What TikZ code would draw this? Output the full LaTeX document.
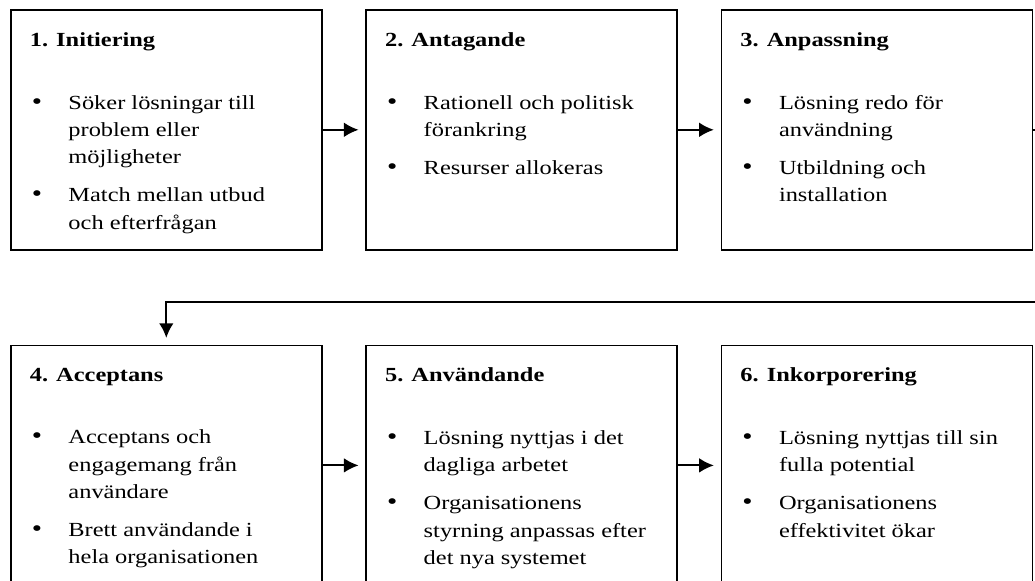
\documentclass[tikz,border=0pt]{standalone}
\usepackage{fontspec}
\setmainfont{Liberation Serif}[FakeStretch=1.22]
\usetikzlibrary{arrows.meta,positioning}

\newcommand{\bitem}[1]{\par\hangindent=29pt\hangafter=1\noindent
  \makebox[29pt][l]{\hspace{1.5pt}{\fontsize{18pt}{18pt}\selectfont\textbullet}}{\let\\\newline#1}}
\newcommand{\stagebox}[2]{\parbox[c][180pt][t]{204.75pt}{\raggedright\parskip=8pt
  \vspace*{9pt}\textbf{#1}\par\vspace{18.5pt}#2}}

\begin{document}
\begin{tikzpicture}[
  stage/.style={draw,line width=1.2pt,minimum width=233.25pt,minimum height=180pt,
    inner xsep=14.25pt,inner ysep=0pt,font={\fontsize{15pt}{20.5pt}\selectfont}},
  flow/.style={line width=1.5pt,-{Latex[length=11pt,width=11pt]},shorten >=5pt},
  node distance=70.5pt and 32pt
]
  \useasboundingbox (-7.5pt,6.75pt) rectangle (768.75pt,-429pt);

  \node[stage,anchor=north west] (s1) at (0,0) {\stagebox{1. Initiering}{%
    \bitem{Söker lösningar till\\problem eller\\möjligheter}
    \bitem{Match mellan utbud\\och efterfrågan}}};
  \node[stage,right=of s1] (s2) {\stagebox{2. Antagande}{%
    \bitem{Rationell och politisk\\förankring}
    \bitem{Resurser allokeras}}};
  \node[stage,right=of s2] (s3) {\stagebox{3. Anpassning}{%
    \bitem{Lösning redo för\\användning}
    \bitem{Utbildning och\\installation}}};
  \node[stage,below=of s1] (s4) {\stagebox{4. Acceptans}{%
    \bitem{Acceptans och\\engagemang från\\användare}
    \bitem{Brett användande i\\hela organisationen}}};
  \node[stage,right=of s4] (s5) {\stagebox{5. Användande}{%
    \bitem{Lösning nyttjas i det\\dagliga arbetet}
    \bitem{Organisationens\\styrning anpassas efter\\det nya systemet}}};
  \node[stage,right=of s5] (s6) {\stagebox{6. Inkorporering}{%
    \bitem{Lösning nyttjas till sin\\fulla potential}
    \bitem{Organisationens\\effektivitet ökar}}};

  \coordinate[above=32.25pt of s4.north] (ret);

  \draw[flow] (s1) -- (s2);
  \draw[flow] (s2) -- (s3);
  \draw[flow] (s3.east) -- ++(15pt,0) |- (ret) -- (s4.north);
  \draw[flow] (s4) -- (s5);
  \draw[flow] (s5) -- (s6);
\end{tikzpicture}
\end{document}
